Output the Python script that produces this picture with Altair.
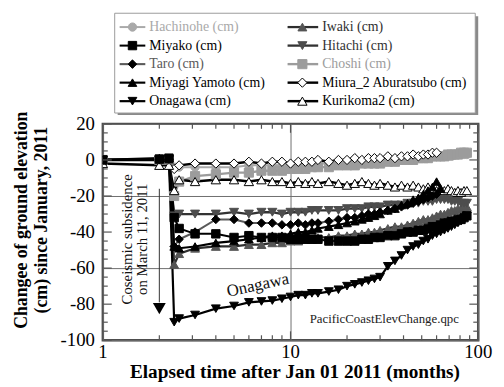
import altair as alt
import pandas as pd

# ---------------- data ----------------
months = [1, 2, 2.25, 2.4, 2.55, 3.1, 4, 5, 6, 7, 8, 9, 10, 11, 12, 13, 14,
          16, 18, 20, 22, 24, 26, 28, 30,
          33, 36, 39, 42, 45, 48, 51, 54, 57, 60, 63, 66, 69, 72, 75, 78, 81, 84, 87]

series_names = ["Hachinohe (cm)", "Miyako (cm)", "Taro (cm)", "Miyagi Yamoto (cm)", "Onagawa (cm)",
                "Iwaki (cm)", "Hitachi (cm)", "Choshi (cm)", "Miura_2 Aburatsubo (cm)", "Kurikoma2 (cm)"]

hachinohe = [0, 0, 0, -4, -4, -4,
             -4, -4, -3, -3, -3, -3, -3, -3, -2, -2, -2,
             -2, -2, -1, -1, -1, -1, 0, 0,
             0, 0, 0, 1, 1, 1, 1, 1, 2, 2, 2, 2, 2, 2, 3, 3, 3, 3, 3]
miyako = [0, 0.5, 1, -32, -38, -41,
          -41, -43, -42, -43, -43, -43, -44, -44, -44, -44, -44,
          -45, -45, -45, -45, -44, -44, -43, -43,
          -42, -42, -41, -40, -40, -39, -39, -38, -37, -37, -36, -35, -35, -34, -34, -33, -33, -32, -31]
taro = [0, 0.5, 0.5, -48, -44, -40,
        -33, -33, -35, -35, -35, -36, -36, -35, -36, -35, -35,
        -34, -33, -32, -32, -31, -30, -30, -29,
        -28, -27, -26, -25, -24, -23, -22, -21, -20, -19,
        None, None, None, None, None, None, None, None, None]
miyagi = [0, 1, 1, -48, -49, -48,
          -46, -45, -44, -43, -42, -42, -41, -40, -40, -39, -38,
          -37, -36, -35, -34, -33, -32, -31, -30,
          -28, -27, -25, -24, -22, -21, -19, -17, -15, -12, -16,
          None, None, None, None, None, None, None, None]
onagawa = [0, 0, 0.5, -90, -88, -86,
           -82.5, -81, -79, -78.5, -78, -77, -76, -75, -75, -74, -74,
           -73, -72, -70, -69, -68, -67, -66, -65,
           -59, -56, -53, -50, -48, -47, -45, -44, -42, -41, -40, -39, -38, -37, -36, -35, -34, -33, -31]
iwaki = [0, 0, 0, -58, -52, -49,
         -48, -48, -47, -47, -46, -46, -45, -45, -44, -44, -43,
         -43, -42, -42, -41, -41, -40, -40, -39,
         -38, -37, -37, -36, -35, -34, -33, -33, -32, -31, -30, -30, -29, -28, -28, -27, -27, -26, -26]
hitachi = [0, 0, 0, -31, -30, -30,
           -30, -29, -30, -29, -29, -30, -29, -29, -29, -28, -28,
           -28, -28, -27, -27, -27, -26, -26, -26,
           -25, -25, -25, -24, -24, -24, -23, -23, -23, -22, -22, -22, -22, -23, -23, -23, -24, -24, -24]
choshi = [0, 0, 0, -20, -12, -9,
          -8, -7, -7, -6, -6, -6, -5, -5, -5, -4, -4,
          -4, -3, -3, -3, -2, -2, -2, -2,
          -1, -1, 0, 0, 0, 1, 1, 1, 2, 2, 2, 2, 3, 3, 3, 3, 4, 4, 4]
miura = [0, 0, 0, -5, -3, -2,
         -2, -2, -1, -2, -1, -1, -2, -1, -1, -1, 0,
         -1, 0, 0, 1, 0, 1, 1, 1,
         2, 1, 2, 2, 3, 2, 3, 3, 4, 4,
         None, None, None, None, None, None, None, None, None]
kurikoma2 = [-2, -3, -3, -17, -11, -12,
             -11, -11, -12, -11, -12, -12, -13, -12, -13, -12, -13,
             -12, -13, -14, -13, -12, -13, -14, -13,
             -14, -15, -14, -15, -14, -15, -16, -15, -16, -17, -16, -17, -16, -17, -18, -17, -18, -17, -17]

series_values = [hachinohe, miyako, taro, miyagi, onagawa, iwaki, hitachi, choshi, miura, kurikoma2]

x_label_values = [1, 10, 100]
x_minor_ticks = [2, 3, 4, 5, 6, 7, 8, 9, 20, 30, 40, 50, 60, 70, 80, 90]
y_label_values = [20, 0, -20, -40, -60, -80, -100]
y_minor_ticks = [15, 10, 5, -5, -10, -15, -25, -30, -35, -45, -50, -55, -65, -70, -75, -85, -90, -95]

# ---------------- styles ----------------
line_colors = ["#a9a9a9", "#000000", "#5a5a5a", "#000000", "#000000",
               "#2e2e2e", "#333333", "#9c9c9c", "#000000", "#000000"]
fill_colors = ["#a9a9a9", "#000000", "#000000", "#000000", "#000000",
               "#555555", "#4d4d4d", "#9c9c9c", "#ffffff", "#ffffff"]
stroke_colors = ["#a9a9a9", "#000000", "#000000", "#000000", "#000000",
                 "#555555", "#4d4d4d", "#9c9c9c", "#000000", "#000000"]
shapes = ["circle", "square", "diamond", "triangle-up", "triangle-down",
          "triangle-up", "triangle-down", "square", "diamond", "triangle-up"]
sizes = [70, 90, 80, 90, 90, 90, 90, 90, 80, 110]
line_widths = [2, 2.5, 2, 2.5, 2.5, 2, 2, 2.5, 1, 1]
draw_order = ["Hachinohe (cm)", "Choshi (cm)", "Miura_2 Aburatsubo (cm)", "Kurikoma2 (cm)",
              "Iwaki (cm)", "Hitachi (cm)", "Taro (cm)", "Miyagi Yamoto (cm)", "Miyako (cm)", "Onagawa (cm)"]

FONT = "Liberation Serif"
W, H = 380, 219

rows = []
for name, vals in zip(series_names, series_values):
    for m, v in zip(months, vals):
        if v is not None:
            rows.append({"series": name, "month": m, "value": v, "ord": draw_order.index(name)})
df = pd.DataFrame(rows).sort_values(["ord", "month"], kind="stable")

color_s = alt.Scale(domain=series_names, range=line_colors)
fill_s = alt.Scale(domain=series_names, range=fill_colors)
stroke_s = alt.Scale(domain=series_names, range=stroke_colors)
shape_s = alt.Scale(domain=series_names, range=shapes)
size_s = alt.Scale(domain=series_names, range=sizes)
sw_s = alt.Scale(domain=series_names, range=line_widths)

xscale = alt.Scale(type="log", domain=[1, 100], nice=False)
yscale = alt.Scale(domain=[-100, 20], nice=False, zero=False)

x_axis = alt.Axis(values=x_label_values, grid=True, labels=False,
                  gridColor="#6e6e6e", gridWidth=1, domain=False, ticks=False, tickSize=0,
                  title="Elapsed time after Jan 01 2011 (months)", titleFont=FONT,
                  titleFontSize=19.5, titleFontWeight="bold", titleColor="#000",
                  titleX=194, titleY=32, titleAlign="center", titleBaseline="middle")
y_axis = alt.Axis(values=y_label_values, grid=True, labels=False,
                  gridColor="#6e6e6e", gridWidth=1, domain=False, ticks=False, tickSize=0,
                  title=["Changee of ground elevation", "(cm) since January, 2011"],
                  titleFont=FONT, titleFontSize=18, titleFontWeight="bold", titleColor="#000",
                  titleAngle=270, titleX=-82, titleY=97, titleAlign="center",
                  titleBaseline="middle", titleLineHeight=20)

base = alt.Chart(df)
lines = base.mark_line(clip=True).encode(
    x=alt.X("month:Q", scale=xscale, axis=x_axis),
    y=alt.Y("value:Q", scale=yscale, axis=y_axis),
    color=alt.Color("series:N", scale=color_s, legend=None),
    strokeWidth=alt.StrokeWidth("series:N", scale=sw_s, legend=None),
    detail="series:N",
)
points = base.mark_point(filled=True, opacity=1, strokeWidth=1, clip=True).encode(
    x="month:Q", y="value:Q",
    fill=alt.Fill("series:N", scale=fill_s, legend=None),
    stroke=alt.Stroke("series:N", scale=stroke_s, legend=None),
    shape=alt.Shape("series:N", scale=shape_s, legend=None),
    size=alt.Size("series:N", scale=size_s, legend=None),
    order=alt.Order("ord:Q"),
)

# ----- inward ticks and tick labels -----
xmin_df = pd.DataFrame({"month": x_minor_ticks})
xmaj_df = pd.DataFrame({"month": x_label_values, "lab": [str(v) for v in x_label_values]})
ymin_df = pd.DataFrame({"value": y_minor_ticks})
ymaj_df = pd.DataFrame({"value": y_label_values, "lab": [str(v) for v in y_label_values]})
TC = "#555555"
tick_layers = []
for d, ln in ((xmin_df, 5), (xmaj_df, 9)):
    tick_layers.append(alt.Chart(d).mark_rule(color=TC, strokeWidth=1.2).encode(
        x="month:Q", y=alt.value(H), y2=alt.value(H - ln)))
    tick_layers.append(alt.Chart(d).mark_rule(color=TC, strokeWidth=1.2).encode(
        x="month:Q", y=alt.value(0), y2=alt.value(ln)))
for d, ln in ((ymin_df, 5), (ymaj_df, 9)):
    tick_layers.append(alt.Chart(d).mark_rule(color=TC, strokeWidth=1.2).encode(
        y="value:Q", x=alt.value(0), x2=alt.value(ln)))
    tick_layers.append(alt.Chart(d).mark_rule(color=TC, strokeWidth=1.2).encode(
        y="value:Q", x=alt.value(W), x2=alt.value(W - ln)))
x_labels = alt.Chart(xmaj_df).mark_text(font=FONT, fontSize=19, color="#000",
                                        align="center", baseline="middle").encode(
    x="month:Q", y=alt.value(H + 12), text="lab:N")
y_labels = alt.Chart(ymaj_df).mark_text(font=FONT, fontSize=19, color="#000",
                                        align="right", baseline="middle").encode(
    y="value:Q", x=alt.value(-8), text="lab:N")

# ----- annotations -----
arrow_df = pd.DataFrame({"month": [2.0], "top": [-16], "bottom": [-79], "head": [-82.5]})
arrow = alt.Chart(arrow_df).mark_rule(color="#333", strokeWidth=1).encode(
    x="month:Q", y="top:Q", y2="bottom:Q")
arrow_head = alt.Chart(arrow_df).mark_point(shape="triangle-down", filled=True, opacity=1,
                                            color="#000", size=170).encode(
    x="month:Q", y="head:Q")
cos_df = pd.DataFrame({"month": [1.35], "value": [-44], "t": ["Coseismic subsidence\non March 11, 2011"]})
cos_text = alt.Chart(cos_df).mark_text(angle=270, align="center", baseline="middle", lineBreak="\n",
                                       lineHeight=15, font=FONT, fontSize=15, color="#111").encode(
    x="month:Q", y="value:Q", text="t:N")
ona_df = pd.DataFrame({"month": [6.7], "value": [-69.5], "t": ["Onagawa"]})
ona_text = alt.Chart(ona_df).mark_text(angle=348, align="center", baseline="middle",
                                       font=FONT, fontSize=17, color="#111").encode(
    x="month:Q", y="value:Q", text="t:N")
file_df = pd.DataFrame({"month": [31.6], "value": [-88.5], "t": ["PacificCoastElevChange.qpc"]})
file_text = alt.Chart(file_df).mark_text(align="center", baseline="middle",
                                         font=FONT, fontSize=13, color="#222").encode(
    x="month:Q", y="value:Q", text="t:N")

# ----- legend (drawn above the plot) -----
LEG_TOP_ROW = -98
LEG_ROW_STEP = 18.75
LEG_COLS = [dict(l0=17, l1=43, m=30, t=47), dict(l0=187, l1=218, m=202, t=222)]
leg_rows = []
for i, name in enumerate(series_names):
    c = LEG_COLS[i // 5]
    leg_rows.append({"series": name, "lx": c["l0"], "lx2": c["l1"], "mx": c["m"], "tx": c["t"],
                     "ly": LEG_TOP_ROW + (i % 5) * LEG_ROW_STEP})
leg_df = pd.DataFrame(leg_rows)
box_df = pd.DataFrame({"k": [0]})
leg_shadow = alt.Chart(box_df).mark_rect(fill="#8a8a8a").encode(
    x=alt.value(15), x2=alt.value(380), y=alt.value(-109), y2=alt.value(-9))
leg_box = alt.Chart(box_df).mark_rect(fill="#ffffff", stroke="#9a9a9a", strokeWidth=1).encode(
    x=alt.value(12), x2=alt.value(377), y=alt.value(-112), y2=alt.value(-11))
leg_lines = alt.Chart(leg_df).mark_rule().encode(
    x=alt.X("lx:Q", scale=None), x2="lx2:Q", y=alt.Y("ly:Q", scale=None),
    color=alt.Color("series:N", scale=color_s, legend=None),
    strokeWidth=alt.StrokeWidth("series:N", scale=sw_s, legend=None))
leg_pts = alt.Chart(leg_df).mark_point(filled=True, opacity=1, strokeWidth=1).encode(
    x=alt.X("mx:Q", scale=None), y=alt.Y("ly:Q", scale=None),
    fill=alt.Fill("series:N", scale=fill_s, legend=None),
    stroke=alt.Stroke("series:N", scale=stroke_s, legend=None),
    shape=alt.Shape("series:N", scale=shape_s, legend=None),
    size=alt.Size("series:N", scale=size_s, legend=None))
leg_text = alt.Chart(leg_df).mark_text(align="left", baseline="middle", font=FONT, fontSize=14).encode(
    x=alt.X("tx:Q", scale=None), y=alt.Y("ly:Q", scale=None), text="series:N",
    color=alt.Color("series:N", scale=color_s, legend=None))

chart = alt.layer(
    lines, points, *tick_layers, x_labels, y_labels, arrow, arrow_head, cos_text, ona_text, file_text,
    leg_shadow, leg_box, leg_lines, leg_pts, leg_text
).properties(
    width=W, height=H,
    autosize=alt.AutoSizeParams(type="none"),
    padding={"left": 96, "top": 115, "right": 18, "bottom": 42},
    background="white",
).configure(font=FONT).configure_view(stroke="#4d4d4d", strokeWidth=2.5)

chart.save("out.html", embed_options={"renderer": "svg", "actions": False})
